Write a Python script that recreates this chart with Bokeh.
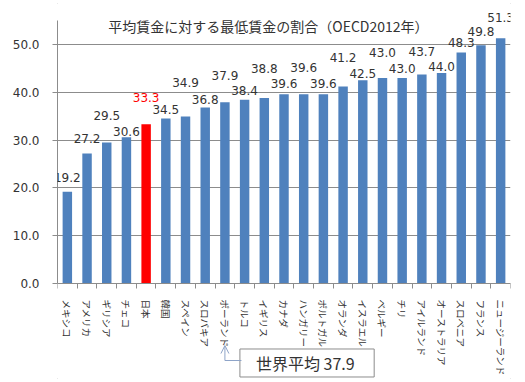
import math
from bokeh.plotting import figure
from bokeh.models import (ColumnDataSource, FixedTicker, NumeralTickFormatter,
                          LabelSet, Label, Arrow, OpenHead, Range1d)
from bokeh.core.properties import value
from bokeh.embed import file_html
from bokeh.resources import INLINE

# ---- data ----
categories = ["メキシコ", "アメリカ", "ギリシア", "チェコ", "日本", "韓国", "スペイン",
              "スロバキア", "ポーランド", "トルコ", "イギリス", "カナダ", "ハンガリー",
              "ポルトガル", "オランダ", "イスラエル", "ベルギー", "チリ", "アイルランド",
              "オーストラリア", "スロベニア", "フランス", "ニュージーランド"]
values = [19.2, 27.2, 29.5, 30.6, 33.3, 34.5, 34.9, 36.8, 37.9, 38.4, 38.8, 39.6, 39.6,
          39.6, 41.2, 42.5, 43.0, 43.0, 43.7, 44.0, 48.3, 49.8, 51.3]
highlight = "日本"
title_text = "平均賃金に対する最低賃金の割合（OECD2012年）"
note_target = "ポーランド"
note_label = "世界平均"
note_value = 37.9
y_ticks = [0, 10, 20, 30, 40, 50]

# ---- styles ----
BLUE = "#4F81BD"
RED = "#FF0000"
GRID = "#8C8C8C"
TEXT = "#333333"
ARROW = "#8EA4C8"
# vertical lift (px) of each value label above its bar top (staggered labels)
label_lift = [14, 15, 27, 6, 27, 9, 34, 8, 27, 9, 29, 11, 27, 11, 29, 7, 25, 9, 23, 7, 10, 14, 21]

n = len(categories)
xs = list(range(n))
src = ColumnDataSource(dict(
    x=xs,
    value=values,
    label=[f"{v:.1f}" for v in values],
    color=[RED if c == highlight else BLUE for c in categories],
    tcolor=[RED if c == highlight else TEXT for c in categories],
    dy=label_lift,
))

Y_AXIS_TOP = 55
Y_TOP = 59.18      # frame extends above the axis so top value labels are not cut
Y_BOTTOM = -20.70  # lower part of the frame hosts the category labels and the note

p = figure(width=525, height=382, output_backend="svg", toolbar_location=None,
           x_range=Range1d(-0.5, n - 0.5), y_range=Range1d(Y_BOTTOM, Y_TOP),
           min_border_left=57, min_border_right=15, min_border_top=0, min_border_bottom=0)
p.outline_line_color = None
p.background_fill_color = "white"
p.border_fill_color = "white"
p.styles = {"outline": "1px solid #A6A6A6", "outline-offset": "-4px"}

p.vbar(x="x", top="value", width=0.48, fill_color="color", line_color=None, source=src)

labels = LabelSet(x="x", y="value", text="label", y_offset="dy", source=src,
                  text_align="center", text_baseline="middle", text_color="tcolor",
                  text_font=value("DejaVu Sans"), text_font_size=value("12px"))
p.add_layout(labels)

# axes
p.xgrid.visible = False
p.ygrid.ticker = FixedTicker(ticks=y_ticks)
p.ygrid.grid_line_color = GRID
p.ygrid.grid_line_width = 1

ya = p.yaxis[0]
ya.ticker = FixedTicker(ticks=y_ticks)
ya.bounds = (0, Y_AXIS_TOP)
ya.formatter = NumeralTickFormatter(format="0.0")
ya.axis_line_color = GRID
ya.major_tick_line_color = GRID
ya.major_tick_out = 5
ya.major_tick_in = 0
ya.minor_tick_line_color = None
ya.major_label_standoff = 13
ya.major_label_text_font = "DejaVu Sans"
ya.major_label_text_font_size = "12px"
ya.major_label_text_color = TEXT

xa = p.xaxis[0]
xa.fixed_location = 0
xa.ticker = FixedTicker(ticks=xs, minor_ticks=[i - 0.5 for i in range(n + 1)])
xa.major_label_overrides = {i: c for i, c in enumerate(categories)}
xa.axis_line_color = GRID
xa.major_tick_line_color = None
xa.major_tick_out = 0
xa.major_tick_in = 0
xa.minor_tick_line_color = GRID
xa.minor_tick_out = 5
xa.minor_tick_in = 0
xa.major_label_orientation = -math.pi / 2
xa.major_label_standoff = 11
xa.major_label_text_font = "Noto Sans CJK JP"
xa.major_label_text_font_size = "9.5px"
xa.major_label_text_color = TEXT

# title
p.add_layout(Label(x=10.21, y=53.95, text=title_text, text_align="center",
                   text_baseline="middle", text_font="Noto Sans CJK JP",
                   text_font_size="14px", text_color=TEXT))

# world-average note with arrow to its category
ti = categories.index(note_target)
p.add_layout(Label(x=ti + 4.17, y=-16.62, text=f"{note_label}  {note_value:.1f}",
                   text_align="center", text_baseline="middle",
                   text_font="Noto Sans CJK JP", text_font_size="16px", text_color=TEXT,
                   background_fill_color="white", border_line_color="#8C8C8C",
                   padding=(16, 2)))
p.add_layout(Arrow(x_start=ti + 0.84, y_start=-16.10, x_end=ti, y_end=-16.10, end=None,
                   line_color=ARROW, line_width=1))
p.add_layout(Arrow(x_start=ti, y_start=-16.10, x_end=ti, y_end=-12.97,
                   end=OpenHead(size=8, line_color=ARROW, line_width=1),
                   line_color=ARROW, line_width=1))

open("out.html", "w").write(file_html(p, INLINE))
